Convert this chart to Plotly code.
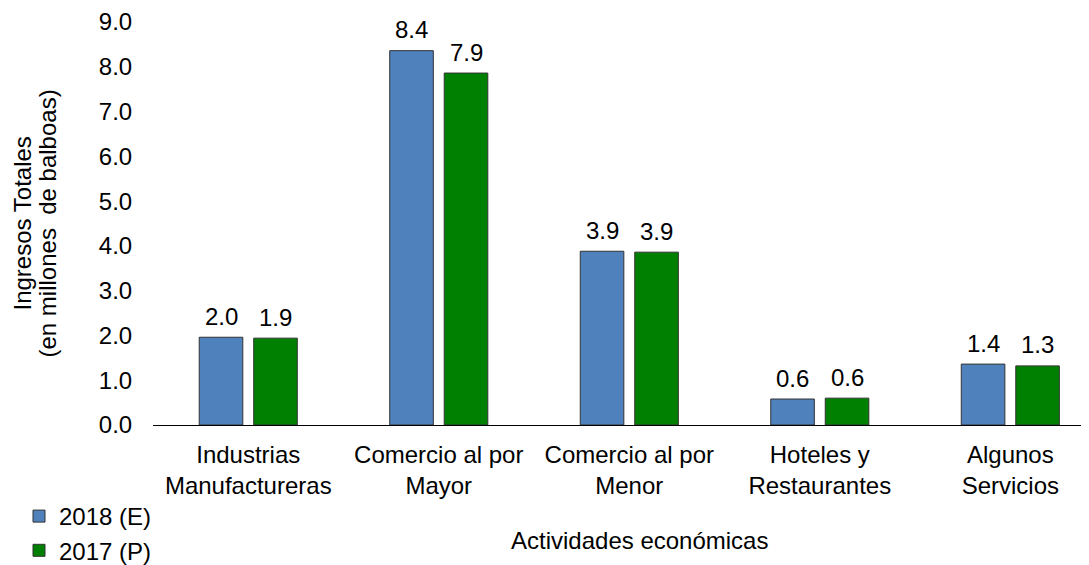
import plotly.graph_objects as go

categories = ["Industrias<br>Manufactureras", "Comercio al por<br>Mayor", "Comercio al por<br>Menor",
              "Hoteles y<br>Restaurantes", "Algunos<br>Servicios"]
series_2018 = [1.96, 8.36, 3.88, 0.58, 1.36]
series_2017 = [1.94, 7.86, 3.86, 0.60, 1.32]
names = ["2018 (E)", "2017 (P)"]
colors = ["#4F81BD", "#008000"]
y_ticks = [0, 1, 2, 3, 4, 5, 6, 7, 8, 9]

FONT = "Liberation Sans, Arial, sans-serif"
FS = 24

# page body has an 8px margin, so the figure is drawn 8px in from the window corner
W, H = 1081, 557
L, R, T, B = 145, 4, 14, 140
PW = W - L - R
PH = H - T - B
X_RANGE = [-0.5, 4.392]
BARGAP, GROUPGAP = 0.428, 0.2
# offset (px) of each bar centre from its category centre in a 2-bar group
OFFSET = (1 - BARGAP) / 4 * PW / (X_RANGE[1] - X_RANGE[0])

fig = go.Figure()
for vals, name, col in zip([series_2018, series_2017], names, colors):
    fig.add_trace(go.Bar(
        x=categories, y=vals, name=name,
        marker=dict(color=col, line=dict(color="#333333", width=1)),
        cliponaxis=False,
    ))

annotations = []
for vals, sign in zip([series_2018, series_2017], [-1, 1]):
    for cat, v in zip(categories, vals):
        annotations.append(dict(
            x=cat, y=v, xref="x", yref="y", text=f"{v:.1f}", showarrow=False,
            xanchor="center", yanchor="middle", xshift=sign * OFFSET, yshift=21,
            font=dict(size=FS, color="#000000"),
        ))

annotations += [
    dict(text="Ingresos Totales", xref="paper", yref="paper",
         x=(14 - L) / PW, y=0.5, xanchor="center", yanchor="middle", textangle=-90,
         showarrow=False, font=dict(size=FS)),
    dict(text="(en millones  de balboas)", xref="paper", yref="paper",
         x=(39 - L) / PW, y=0.5, xanchor="center", yanchor="middle", textangle=-90,
         showarrow=False, font=dict(size=FS)),
    dict(text="Actividades económicas", xref="paper", yref="paper",
         x=(631 - L) / PW, y=(H - B - 532) / PH, xanchor="center", yanchor="middle",
         showarrow=False, font=dict(size=FS)),
]

fig.update_layout(
    width=W, height=H,
    margin=dict(l=L, r=R, t=T, b=B, autoexpand=False),
    paper_bgcolor="white", plot_bgcolor="white",
    barmode="group", bargap=BARGAP, bargroupgap=GROUPGAP,
    font=dict(family=FONT, size=FS, color="#000000"),
    showlegend=True,
    legend=dict(orientation="v", x=(11 - L) / PW, y=(H - B - 486) / PH,
                xanchor="left", yanchor="top",
                font=dict(size=FS), itemwidth=30, tracegroupgap=0, bgcolor="rgba(0,0,0,0)"),
    xaxis=dict(range=X_RANGE, showline=True, linecolor="#000000", linewidth=1,
               ticks="outside", ticklen=8, tickcolor="rgba(0,0,0,0)", showgrid=False,
               tickfont=dict(size=FS), automargin=False),
    yaxis=dict(range=[0, 9], tickvals=y_ticks, tickformat=".1f", showline=False,
               showgrid=False, zeroline=False, ticks="outside", ticklen=15,
               tickcolor="rgba(0,0,0,0)", tickfont=dict(size=FS), automargin=False),
    annotations=annotations,
)

fig.write_html("out.html")
